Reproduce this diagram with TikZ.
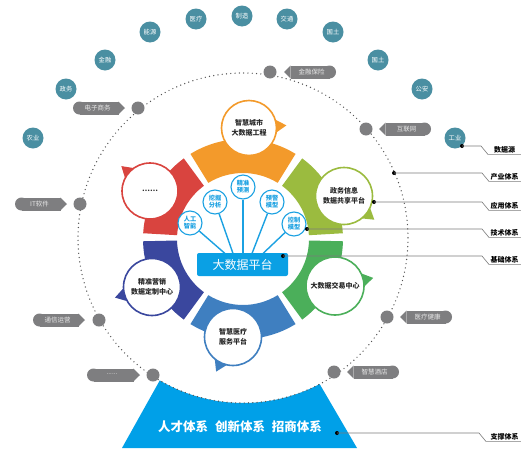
\documentclass[tikz,border=0pt]{standalone}
\usepackage{fontspec}
\setmainfont{Noto Sans CJK SC}
\usetikzlibrary{calc}
\definecolor{cOrange}{HTML}{F39A2B}
\definecolor{cOlive}{HTML}{9BBB3F}
\definecolor{cGreen}{HTML}{4BAF5A}
\definecolor{cMid}{HTML}{3F7FC0}
\definecolor{cDark}{HTML}{3A479E}
\definecolor{cRed}{HTML}{D9443F}
\definecolor{cLight}{HTML}{1BA1E2}
\definecolor{cBox}{HTML}{0AA0E4}
\definecolor{cTrap}{HTML}{00A0E8}
\definecolor{cTeal}{HTML}{4A8FA2}
\definecolor{cTag}{HTML}{7E7E80}
\definecolor{cTagTxt}{HTML}{E8E8E8}
\definecolor{cDotted}{HTML}{555555}
\definecolor{cLead}{HTML}{7A7A7A}
\definecolor{cUnder}{HTML}{AAAAAA}
\tikzset{
  src/.style={circle, fill=cTeal, minimum size=21pt, inner sep=0pt, text=white, font=\fontsize{6.3}{7}\selectfont},
  gdot/.style={circle, fill=cTag, minimum size=13pt, inner sep=0pt},
  tagtxt/.style={inner sep=0pt, text=cTagTxt, font=\fontsize{6.5}{7}\selectfont},
  bigbub/.style={circle, fill=white, line width=1.6pt, inner sep=0pt, align=center, text=black!85, font=\fontsize{7}{9.5}\selectfont\bfseries},
  smallbub/.style={circle, draw=cLight, fill=white, line width=1.1pt, minimum size=24pt, inner sep=0pt, align=center, text=cLight, font=\fontsize{6.2}{7}\selectfont\bfseries},
  fan/.style={draw=cLight, line width=1.4pt},
  bdot/.style={circle, fill=black, minimum size=4pt, inner sep=0pt},
  lead/.style={draw=cLead, line width=0.6pt},
  under/.style={draw=cUnder, line width=1.2pt},
  lbl/.style={inner sep=0pt, text=black, font=\fontsize{7}{8}\selectfont\bfseries},
}
% ring segment: visual start angle, visual end angle, colour
\newcommand\ringseg[3]{%
  \fill[#3] ({-(#1)}:100) arc[start angle={-(#1)}, end angle={-(#2)}, radius=100]
    -- ({-(#2)}:66) arc[start angle={-(#2)}, end angle={-(#1)}, radius=66] -- cycle;}
% big bubble: name, x, y, diameter, colour, tail angle (flipped), text
\newcommand\bigbubble[7]{%
  \begin{scope}[shift={(#2,#3)}]
    \fill[#5] ({#6+16}:{#4/2-1}) -- (#6:{#4/2+10}) -- ({#6-16}:{#4/2-1}) -- cycle;
  \end{scope}
  \node[bigbub, draw=#5, minimum size=#4pt] (#1) at (#2,#3) {#7};}
% tag pointing right: name, x0, x1, y, text
\newcommand\tagR[5]{%
  \fill[cTag] (#2+6.5,#4) circle[radius=6.5];
  \fill[cTag] (#2+6.5,#4-6.5) rectangle (#3-6.5,#4+6.5);
  \fill[cTag] (#3-6.6,#4-6.5) -- (#3,#4) -- (#3-6.6,#4+6.5) -- cycle;
  \node[tagtxt] (#1) at ({(#2+#3)/2-1.5},#4) {#5};}
% tag pointing left
\newcommand\tagL[5]{%
  \fill[cTag] (#3-6.5,#4) circle[radius=6.5];
  \fill[cTag] (#2+6.5,#4-6.5) rectangle (#3-6.5,#4+6.5);
  \fill[cTag] (#2+6.6,#4-6.5) -- (#2,#4) -- (#2+6.6,#4+6.5) -- cycle;
  \node[tagtxt] (#1) at ({(#2+#3)/2+1.5},#4) {#5};}
% leader: name, dot x, y, knee x, text
\newcommand\leader[5]{%
  \node[bdot] (#1) at (#2,#3) {};
  \coordinate (#1a) at (#4,#3);
  \coordinate (#1b) at (#4+7,#3+8.5);
  \coordinate (#1c) at (521,#3+8.5);
  \draw[lead] (#1.center) -- (#1a) -- (#1b);
  \draw[under] (#1b) -- (#1c);
  \node[lbl] (#1t) at (504.5,#3+4.2) {#5};}
\begin{document}
\begin{tikzpicture}[x=1pt,y=-1pt]
\useasboundingbox (0,0) rectangle (527,458);
\fill[white] (0,0) rectangle (527,458);

% support trapezoid
\fill[cTrap] ($(243,238)+(120.3:165)$) arc[start angle=120.3, end angle=62.3, radius=165]
  -- (357,448) -- (122,448) -- cycle;
\node[inner sep=0pt, text=white, font=\fontsize{12.5}{14}\selectfont\bfseries] (support) at (240,427)
  {人才体系\hspace{0.55em}创新体系\hspace{0.55em}招商体系};

% dotted industry circle
\draw[cDotted, line width=1.4pt, dash pattern=on 0pt off 4.3pt, line cap=round] (243,238) circle[radius=165];

% tags and dots
\node[gdot] (d1) at (138,108) {};
\node[gdot] (d2) at (80,204) {};
\node[gdot] (d3) at (99,320) {};
\node[gdot] (d4) at (153,375) {};
\node[gdot] (d5) at (270,72) {};
\node[gdot] (d6) at (366,129) {};
\node[gdot] (d7) at (387,317) {};
\node[gdot] (d8) at (334,372) {};
\tagR{t1}{73}{125}{108}{电子商务}
\tagR{t2}{15}{67}{204}{IT软件}
\tagR{t3}{33}{85}{320}{通信运营}
\tagR{t4}{87}{140}{375}{\raisebox{1.2pt}{......}}
\tagL{t5}{284}{336}{72}{金融保险}
\tagL{t6}{379}{431}{129}{互联网}
\tagL{t7}{400}{452}{317}{医疗健康}
\tagL{t8}{347}{399}{372}{智慧酒店}

% data sources
\node[src] (s1) at (33,138) {农业};
\node[src] (s2) at (66,89) {政务};
\node[src] (s3) at (105,60) {金融};
\node[src] (s4) at (150,32) {能源};
\node[src] (s5) at (196,19) {医疗};
\node[src] (s6) at (242,16) {制造};
\node[src] (s7) at (287,19) {交通};
\node[src] (s8) at (333,32) {国土};
\node[src] (s9) at (378,60) {国土};
\node[src] (s10) at (422,89) {公安};
\node[src] (s11) at (455,138) {工业};

% ring
\begin{scope}[shift={(243,239)}]
  \ringseg{3.3}{53.7}{cOlive}
  \ringseg{58.3}{121.7}{cOrange}
  \ringseg{126.3}{176.7}{cRed}
  \ringseg{181.3}{233.7}{cDark}
  \ringseg{238.3}{301.7}{cMid}
  \ringseg{306.3}{358.7}{cGreen}
\end{scope}

% platform and small bubbles
\node[smallbub] (b1) at (190,223) {人工\\智能};
\node[smallbub] (b2) at (215,202) {挖掘\\分析};
\node[smallbub] (b3) at (243,187) {精准\\预测};
\node[smallbub] (b4) at (272,202) {预警\\模型};
\node[smallbub] (b5) at (294,224) {控制\\模型};
\coordinate (p1) at (225,253.5);
\coordinate (p2) at (233,253.5);
\coordinate (p3) at (243,253.5);
\coordinate (p4) at (252,253.5);
\coordinate (p5) at (263,253.5);
\draw[fan] (b1) -- (p1);
\draw[fan] (b2) -- (p2);
\draw[fan] (b3) -- (p3);
\draw[fan] (b4) -- (p4);
\draw[fan] (b5) -- (p5);
\node[fill=cBox, rounded corners=2pt, minimum width=91pt, minimum height=23pt, inner sep=0pt,
  text=white, font=\fontsize{12}{14}\selectfont] (plat) at (242.5,264.5) {大数据平台};

% big bubbles
\bigbubble{u1}{249}{128}{55}{cOrange}{-4}{智慧城市\\大数据工程}
\bigbubble{u2}{344}{196}{57}{cOlive}{38}{政务信息\\数据共享平台}
\bigbubble{u3}{335}{286}{58}{cGreen}{-12}{大数据交易中心}
\bigbubble{u4}{233}{337}{57}{cMid}{116}{智慧医疗\\服务平台}
\bigbubble{u5}{152}{287}{57}{cDark}{164}{精准营销\\数据定制中心}
\bigbubble{u6}{150}{191}{56}{cRed}{-139}{……}

% leaders
\leader{L1}{462}{146}{481}{数据源}
\leader{L2}{394}{173}{482}{产业体系}
\leader{L3}{374}{202}{482}{应用体系}
\leader{L4}{307}{229}{482}{技术体系}
\leader{L5}{283}{256}{482}{基础体系}
\leader{L6}{337}{433}{479}{支撑体系}
\end{tikzpicture}
\end{document}
